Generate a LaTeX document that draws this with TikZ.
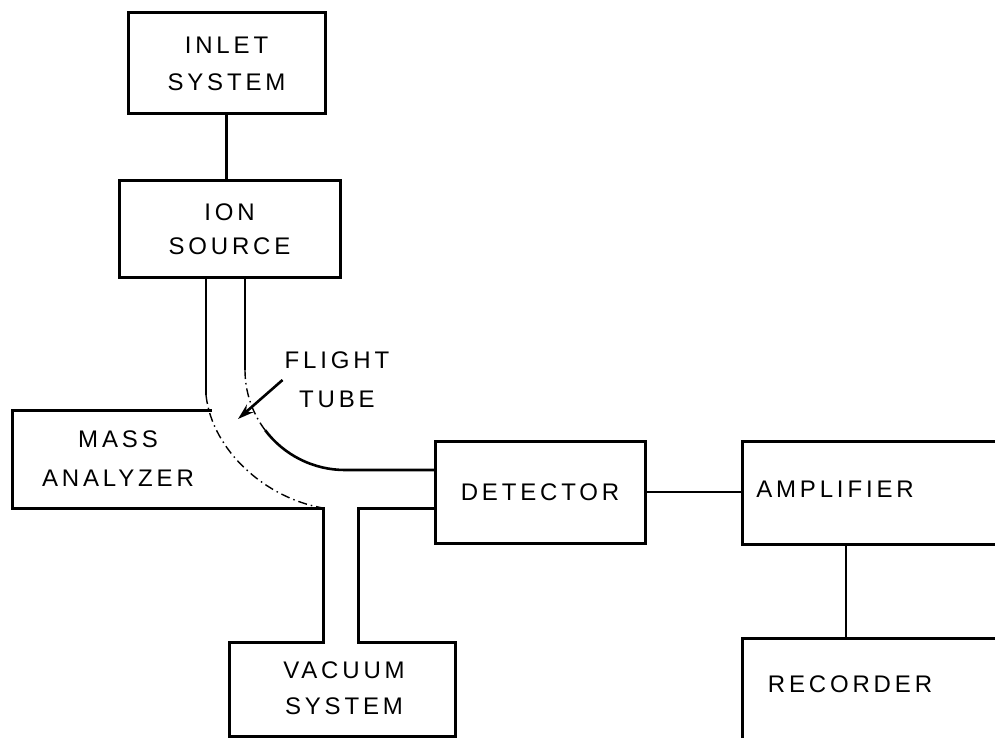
\documentclass[tikz,border=0pt]{standalone}
\usepackage{fontspec}
\setmainfont{Liberation Sans}[LetterSpace=16]
\usetikzlibrary{arrows.meta,calc}
\newcommand\lblfont{\fontsize{24}{37}\selectfont}
\begin{document}
\begin{tikzpicture}[x=1pt,y=-1pt,
  box/.style={draw,line width=3pt,outer sep=0pt,inner sep=0pt,align=center,font=\lblfont},
  lbl/.style={align=center,font=\lblfont,inner sep=0pt},
  edge/.style={line width=3pt,line join=miter},
  wire/.style={line width=2.6pt},
  dashdot/.style={line width=1.4pt,dash pattern=on 9pt off 4pt on 1.5pt off 4pt}]
\useasboundingbox (0,0) rectangle (995,738);

% boxes
\node[box,minimum width=197pt,minimum height=101pt] (inlet) at (226.5,63.5) {INLET\\SYSTEM};
\node[box,minimum width=221pt,minimum height=96pt,font=\fontsize{24}{34}\selectfont] (ion) at (229.5,229) {ION\\SOURCE};
\node[box,minimum width=210pt,minimum height=102pt] (det) at (540,492) {DETECTOR};
\node[box,minimum width=360pt,minimum height=103pt,anchor=west] (amp) at (742,492.5) {};
\node[lbl] (amptext) at (835,489) {AMPLIFIER};
\node[box,minimum width=360pt,minimum height=200pt,anchor=north west] (rec) at (742,638) {};
\node[lbl] (rectext) at (850,684) {RECORDER};

% connectors
\draw[wire] (inlet.south) -- (inlet.south |- ion.north);
\draw[wire] (det.east) -- (det.east -| amp.west);
\draw[wire] (846,0 |- amp.south) -- (846,0 |- rec.north);

% mass analyzer outline, lower tube and vacuum system
\draw[edge] (212,410) -- (12,410) -- (12,508) -- (323,508) -- (323,642) -- (229,642)
  -- (229,736) -- (455,736) -- (455,642) -- (358,642) -- (358,508) -- (det.west |- 0,508);
\node[lbl,font=\fontsize{24}{39}\selectfont] (masstext) at (118,459) {MASS\\ANALYZER};
\node[lbl,font=\fontsize{24}{36}\selectfont] (vactext) at (344,688) {VACUUM\\SYSTEM};

% flight tube
\draw[wire] (206,0 |- ion.south) -- (206,395) coordinate (outerstart);
\draw[dashdot] (outerstart) .. controls (212,450) and (265,498) .. (323,508);
\draw[wire] (245,0 |- ion.south) -- (245,370) coordinate (innerstart);
\draw[dashdot] (innerstart) arc[start angle=180,end angle=143,radius=100] coordinate (innermid);
\draw[wire] (innermid) arc[start angle=143,end angle=90,radius=100] -- (det.west |- 0,470);

% label and arrow
\node[lbl,font=\fontsize{24}{39}\selectfont] (flight) at (337,380) {FLIGHT\\TUBE};
\coordinate (ftip) at (238,419);
\draw[wire,-{Stealth[length=16pt,width=10pt]}] ($(flight.west)+(-2,0)$) -- (ftip);
\end{tikzpicture}
\end{document}
